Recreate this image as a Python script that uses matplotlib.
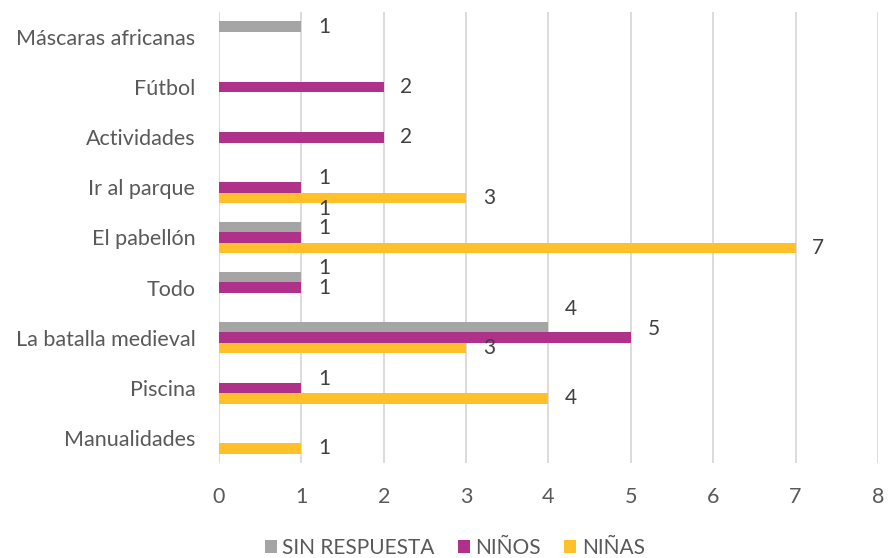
import matplotlib.pyplot as plt
import numpy as np

plt.rcParams['font.family'] = ['Lato', 'DejaVu Sans']

categorias = ["Manualidades", "Piscina", "La batalla medieval", "Todo",
              "El pabellón", "Ir al parque", "Actividades", "Fútbol",
              "Máscaras africanas"]
series = ["SIN RESPUESTA", "NIÑOS", "NIÑAS"]
sin_respuesta = [0, 0, 4, 1, 1, 0, 0, 0, 1]
ninos = [0, 1, 5, 1, 1, 1, 2, 2, 0]
ninas = [1, 4, 3, 0, 7, 3, 0, 0, 0]
colores = ["#A5A5A5", "#B0318A", "#FFC02A"]
valores = [sin_respuesta, ninos, ninas]

texto = "#595959"
fig = plt.figure(figsize=(8.88, 5.58), dpi=100)
ax = fig.add_axes([0.2466, 0.1703, 0.742, 0.8082])

y = np.arange(len(categorias))
h = 0.21
offsets = [h, 0, -h]
for vals, off, col, nom in zip(valores, offsets, colores, series):
    ax.barh(y + off, vals, height=h, color=col, label=nom, zorder=2)

# etiquetas: de abajo hacia arriba, separadas si chocan
gap = 0.39
for i in range(len(categorias)):
    prev = None
    for k in [2, 1, 0]:
        v = valores[k][i]
        if v == 0:
            prev = None
            continue
        yl = i + offsets[k]
        if prev is not None:
            yl = max(yl, prev + gap)
        prev = yl
        ax.annotate(str(v), xy=(v, yl), xytext=(12, 0), textcoords="offset points",
                    ha="left", va="center", fontsize=15, color="#404040")

ax.set_xlim(0, 8)
ax.set_ylim(-0.5, len(categorias) - 0.5)
ax.set_yticks(y)
ax.set_yticklabels(categorias)
ax.set_xticks(range(9))
ax.grid(axis="x", color="#D9D9D9", linewidth=1.3, zorder=0)
for s in ax.spines.values():
    s.set_visible(False)
ax.tick_params(axis="both", length=0, labelsize=15.5, colors=texto)
ax.tick_params(axis="x", pad=17)
ax.tick_params(axis="y", pad=17)

ax.legend(loc="center", bbox_to_anchor=(0.512, 0.018), bbox_transform=fig.transFigure,
          ncol=3, frameon=False, fontsize=15, handlelength=0.6, handleheight=0.6,
          handletextpad=0.25, columnspacing=1.1, labelcolor=texto)

fig.savefig("out.png", dpi=100)
